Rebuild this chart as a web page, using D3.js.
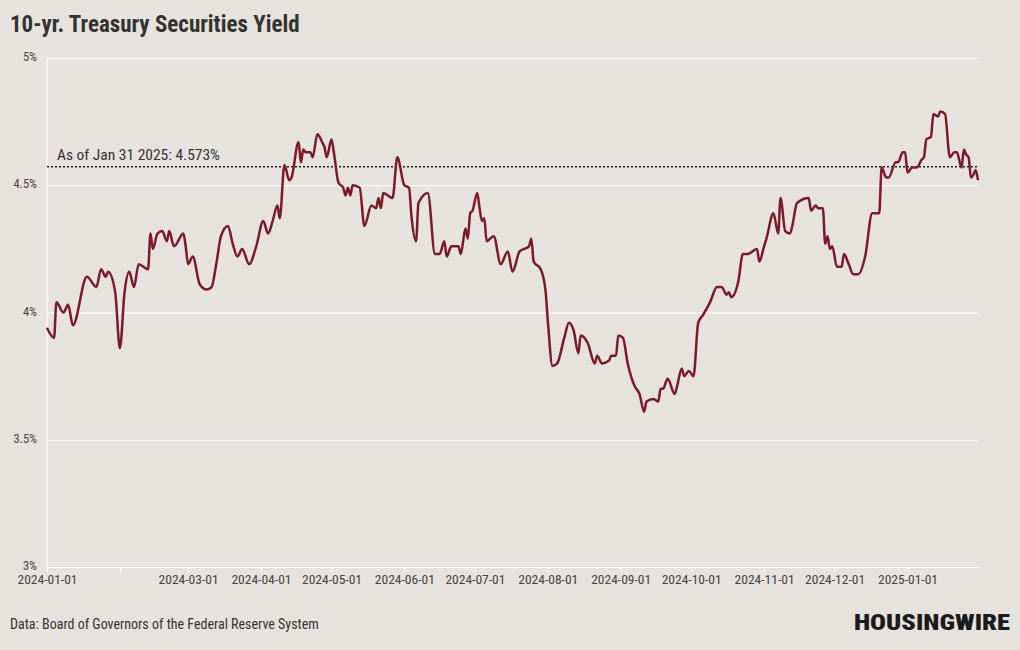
<!DOCTYPE html>
<html>
  <head>
    <script src="https://cdn.jsdelivr.net/npm/d3@7"></script>
    <style>
      body { margin: 0; background: #e6e2dd; }
      text { font-family: "Roboto Condensed", "Liberation Sans Narrow", Roboto, sans-serif; }
    </style>
  </head>
  <body>
    <svg width="1020" height="650" id="mainsvg"></svg>
    <script>
      // days since 2024-01-01 and the 10-yr yield (%)
      const dayOffsets = [0,3,4,7,9,11,17,21,23,25,26,29,31,33,35,37,39,43,44,45,47,49,51,52,54,58,59,60,62,65,68,70,72,74,77,79,81,83,86,89,92,94,96,98,99,101,103,
        104,107,108,109,110,112,113,115,117,118,119,121,122,124,126,127,128,129,130,133,135,138,140,141,142,143,147,149,152,154,155,157,158,162,165,167,169,170,172,175,176,178,179,180,181,183,184,185,186,187,190,193,196,198,201,205,
        206,207,210,212,213,215,217,220,222,224,226,227,230,233,234,236,239,240,242,243,245,247,250,252,254,255,258,260,261,262,264,267,268,270,271,273,275,277,279,282,285,287,289,290,291,294,296,298,
        302,303,305,306,309,311,312,314,316,317,319,324,325,327,328,330,331,332,333,334,336,338,339,341,343,345,348,351,352,354,355,357,358,361,362,364,365,366,368,370,372,373,374,376,377,379,380,382,384,386,387,389,390,391,392,393,394,395,396];
      const yields = [3.94,3.90,4.04,4.00,4.03,3.95,4.14,4.10,4.17,4.14,4.16,4.08,3.86,4.08,4.16,4.10,4.19,4.17,4.31,4.25,4.31,4.32,4.28,4.32,4.26,4.31,4.26,4.19,4.22,4.11,4.09,4.10,4.19,4.30,4.34,4.27,4.22,4.25,4.19,4.26,4.36,4.31,4.36,4.42,4.37,4.58,4.52,
        4.53,4.67,4.59,4.64,4.63,4.63,4.61,4.70,4.67,4.65,4.61,4.68,4.63,4.51,4.49,4.46,4.49,4.46,4.50,4.49,4.34,4.42,4.41,4.45,4.41,4.47,4.45,4.61,4.50,4.49,4.38,4.28,4.43,4.47,4.23,4.23,4.28,4.22,4.26,4.26,4.23,4.33,4.29,4.39,4.40,4.47,4.41,4.36,4.37,4.28,4.30,4.19,4.24,4.16,4.24,4.26,
        4.29,4.20,4.17,4.09,3.97,3.79,3.80,3.90,3.96,3.93,3.84,3.91,3.88,3.80,3.83,3.80,3.81,3.83,3.83,3.91,3.90,3.80,3.71,3.68,3.61,3.65,3.66,3.65,3.70,3.70,3.74,3.68,3.71,3.78,3.75,3.77,3.75,3.96,3.99,4.04,4.10,4.10,4.07,4.08,4.06,4.12,4.23,4.23,4.25,
        4.20,4.26,4.29,4.39,4.31,4.45,4.32,4.31,4.34,4.43,4.45,4.40,4.42,4.41,4.41,4.27,4.30,4.25,4.26,4.18,4.18,4.23,4.19,4.15,4.15,4.22,4.39,4.39,4.39,4.57,4.53,4.53,4.59,4.59,4.63,4.63,4.55,4.57,4.57,4.60,4.61,4.68,4.69,4.78,4.77,4.79,4.78,4.61,4.63,4.63,4.57,4.64,4.62,4.61,4.53,4.54,4.56,4.52,4.573];
      const yTicks = [3, 3.5, 4, 4.5, 5];
      const xTickDates = ['2024-01-01','2024-02-01','2024-03-01','2024-04-01','2024-05-01','2024-06-01','2024-07-01','2024-08-01','2024-09-01','2024-10-01','2024-11-01','2024-12-01','2025-01-01'];
      const hiddenLabels = ['2024-02-01'];
      const latestLabel = 'As of Jan 31 2025: 4.573%';
      const latestValue = 4.573;

      const svg = d3.select('#mainsvg');
      const parse = d3.utcParse('%Y-%m-%d');
      const start = parse('2024-01-01');
      const data = dayOffsets.map((d, i) => ({date: d3.utcDay.offset(start, d), value: yields[i]}));

      const margin = {top: 58, right: 42, bottom: 83, left: 47};
      const innerWidth = 1020 - margin.left - margin.right;
      const innerHeight = 650 - margin.top - margin.bottom;

      const xScale = d3.scaleUtc()
        .domain([start, parse('2025-01-31')])
        .range([0, innerWidth]);
      const yScale = d3.scaleLinear().domain([3, 5]).range([innerHeight, 0]);

      svg.append('text')
        .attr('x', 10).attr('y', 32)
        .attr('font-size', 23).attr('font-weight', 'bold').attr('fill', '#333')
        .text('10-yr. Treasury Securities Yield');

      const g = svg.append('g').attr('transform', `translate(${margin.left}, ${margin.top})`);

      // grid + y labels
      const yAxis = d3.axisLeft(yScale).tickValues(yTicks)
        .tickFormat(d => d + '%').tickSize(-innerWidth).tickPadding(10);
      const yAxisGroup = g.append('g').call(yAxis);
      yAxisGroup.selectAll('.domain').remove();
      yAxisGroup.selectAll('.tick line').attr('stroke', '#fff').attr('stroke-width', 1);
      yAxisGroup.selectAll('.tick text').attr('fill', '#444').attr('font-size', 12.5)
        .attr('dy', '0.2em');

      g.append('line').attr('x1', 0).attr('x2', 0).attr('y1', 0).attr('y2', innerHeight)
        .attr('stroke', '#fff');

      const xAxis = d3.axisBottom(xScale).tickValues(xTickDates.map(parse))
        .tickFormat(d => hiddenLabels.includes(d3.utcFormat('%Y-%m-%d')(d)) ? '' : d3.utcFormat('%Y-%m-%d')(d))
        .tickSize(5).tickPadding(2);
      const xAxisGroup = g.append('g').attr('transform', `translate(0, ${innerHeight})`).call(xAxis);
      xAxisGroup.selectAll('.domain').remove();
      xAxisGroup.selectAll('.tick line').attr('stroke', '#fff');
      xAxisGroup.selectAll('.tick text').attr('fill', '#444').attr('font-size', 13.5);

      // latest value reference line
      g.append('line')
        .attr('x1', 0).attr('x2', innerWidth)
        .attr('y1', yScale(latestValue)).attr('y2', yScale(latestValue))
        .attr('stroke', '#222').attr('stroke-width', 1.5).attr('stroke-dasharray', '2,2');
      g.append('text')
        .attr('x', 10).attr('y', yScale(latestValue) - 7)
        .attr('font-size', 15.5).attr('fill', '#333')
        .text(latestLabel);

      const line = d3.line().x(d => xScale(d.date)).y(d => yScale(d.value)).curve(d3.curveMonotoneX);
      g.append('path').datum(data)
        .attr('fill', 'none').attr('stroke', '#7b1a28').attr('stroke-width', 2.5)
        .attr('stroke-linejoin', 'round')
        .attr('d', line);

      svg.append('text')
        .attr('x', 10).attr('y', 629)
        .attr('font-size', 14).attr('fill', '#333')
        .text('Data: Board of Governors of the Federal Reserve System');
      svg.append('text')
        .attr('x', 1010).attr('y', 630).attr('text-anchor', 'end')
        .attr('font-size', 22).attr('font-weight', 900).attr('fill', '#1c1c1c')
        .attr('textLength', 156).attr('lengthAdjust', 'spacingAndGlyphs')
        .text('HOUSINGWIRE');
    </script>
  </body>
</html>
